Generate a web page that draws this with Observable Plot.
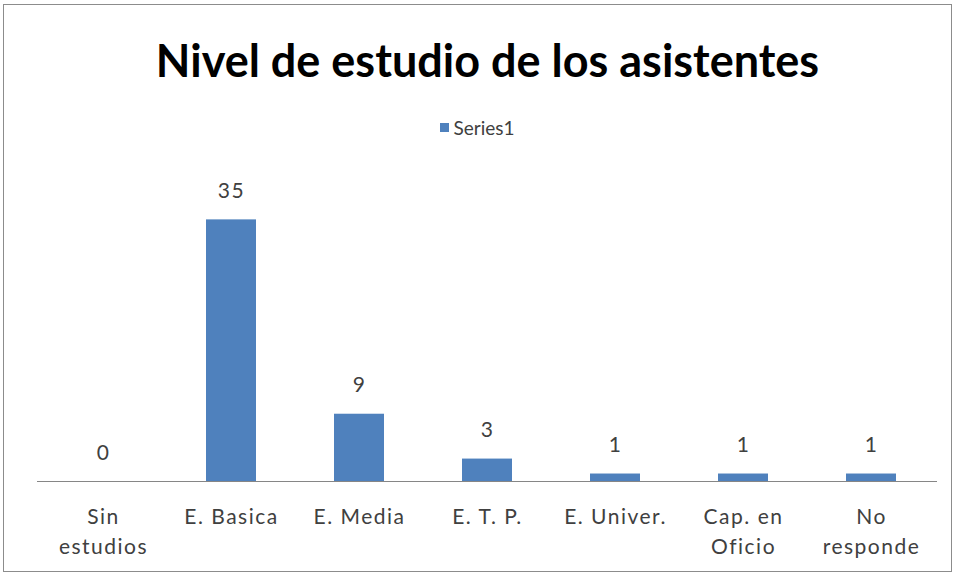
<!DOCTYPE html>
<html><head><meta charset="utf-8">
<script src="https://cdn.jsdelivr.net/npm/d3@7"></script>
<script src="https://cdn.jsdelivr.net/npm/@observablehq/plot@0.6"></script>
<style>
body{margin:0;background:#fff;}
#wrap{position:relative;width:955px;height:578px;font-family:Lato,"Open Sans",sans-serif;}
#frame{position:absolute;left:3px;top:4px;width:947px;height:566px;border:1px solid #8c8c8c;}
#title{position:absolute;left:10px;top:30px;width:955px;height:60px;line-height:60px;text-align:center;font-weight:bold;font-size:45px;color:#000;}
#legend{position:absolute;left:0;top:112px;width:955px;height:30px;display:flex;justify-content:center;align-items:center;font-size:19px;color:#404040;}
#legend span.sw{display:inline-block;width:9px;height:9px;background:#4F81BD;margin-right:4px;}
#chart{position:absolute;left:0;top:145px;}
</style></head>
<body>
<div id="wrap">
<div id="frame"></div>
<div id="title">Nivel de estudio de los asistentes</div>
<div id="legend"><span class="sw"></span><span>Series1</span></div>
<div id="chart"></div>
</div>
<script>
const categories = ["Sin estudios","E. Basica","E. Media","E. T. P.","E. Univer.","Cap. en Oficio","No responde"];
const tickLabels = ["Sin\nestudios","E. Basica","E. Media","E. T. P.","E. Univer.","Cap. en\nOficio","No\nresponde"];
const values = [0,35,9,3,1,1,1];
const data = categories.map((c,i)=>({cat:c,value:values[i]}));
const labelOf = new Map(categories.map((c,i)=>[c,tickLabels[i]]));
const chart = Plot.plot({
  width:955, height:433,
  marginLeft:37, marginRight:18, marginTop:37, marginBottom:97,
  style:{fontFamily:"Lato, 'Open Sans', sans-serif", background:"transparent"},
  x:{domain:categories, paddingInner:0.61, paddingOuter:0.305, label:null},
  y:{domain:[0,40], axis:null},
  marks:[
    Plot.barY(data,{x:"cat",y:"value",fill:"#4F81BD"}),
    Plot.ruleY([0],{stroke:"#868686",strokeWidth:1}),
    Plot.text(data,{x:"cat",y:"value",text:d=>String(d.value),lineAnchor:"bottom",dy:-22,fontSize:21,fill:"#404040"}),
    Plot.axisX({tickSize:0,tickPadding:21,fontSize:21,fill:"#404040",lineHeight:1.43,tickFormat:d=>labelOf.get(d),label:null})
  ]
});
chart.querySelectorAll("text").forEach(t=>t.style.letterSpacing="1.5px");
document.getElementById("chart").appendChild(chart);
</script>
</body></html>
